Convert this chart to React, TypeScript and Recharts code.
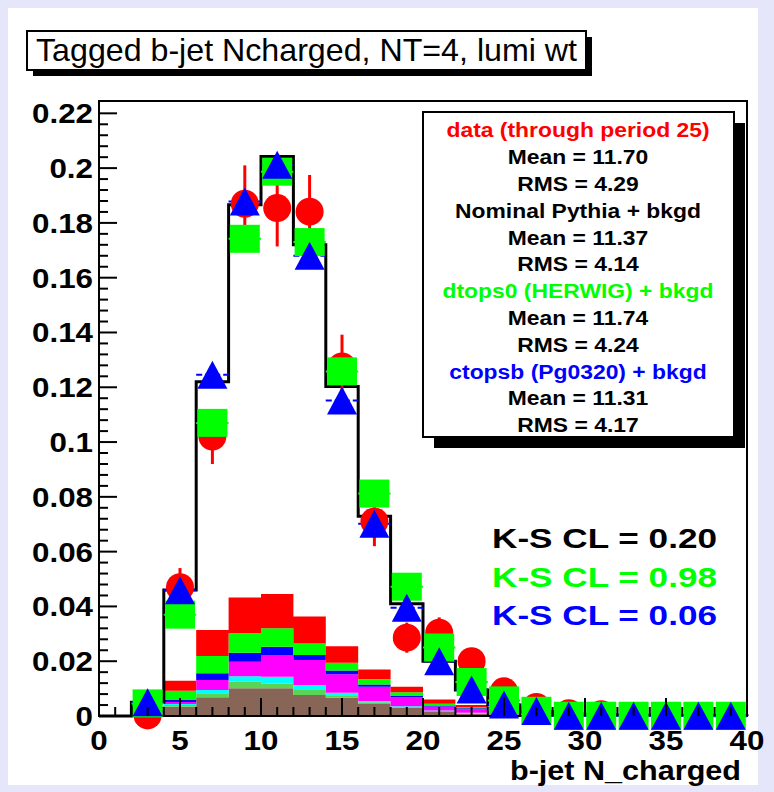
import React from "react";
import {
  ComposedChart,
  Area,
  Line,
  Scatter,
  XAxis,
  YAxis,
  ErrorBar,
  ReferenceArea,
} from "recharts";

// 20 bins of width 2 from 0 to 40, listed by lower edge
const binLow = [0, 2, 4, 6, 8, 10, 12, 14, 16, 18, 20, 22, 24, 26, 28, 30, 32, 34, 36, 38];

// Nominal Pythia + bkgd (black histogram)
const nominal = [0, 0.005, 0.046, 0.122, 0.1866, 0.2042, 0.172, 0.1203, 0.0729, 0.041, 0.02, 0.0095, 0.004, 0.0015, 0.0007, 0.0004, 0.0003, 0.0002, 0.0002, 0.0001];

// background stack, bottom to top
const bgBrown = [0, 0.0008, 0.0034, 0.0068, 0.0101, 0.0101, 0.0077, 0.0067, 0.0044, 0.003, 0.0015, 0.0008, 0.0003, 0, 0, 0, 0, 0, 0, 0];
const bgLightGreen = [0, 0.0002, 0.0006, 0.0015, 0.0024, 0.0018, 0.0018, 0.0006, 0.0006, 0.0003, 0.0003, 0.0002, 0.0001, 0, 0, 0, 0, 0, 0, 0];
const bgCyan = [0, 0.0002, 0.0004, 0.0012, 0.002, 0.0024, 0.0018, 0.0012, 0.0005, 0.0003, 0.0002, 0.0002, 0.0001, 0, 0, 0, 0, 0, 0, 0];
const bgMagenta = [0, 0.0006, 0.0007, 0.0036, 0.0053, 0.008, 0.0091, 0.0067, 0.0052, 0.0032, 0.0015, 0.0013, 0.0005, 0, 0, 0, 0, 0, 0, 0];
const bgBlue = [0, 0.0002, 0.0007, 0.0025, 0.0033, 0.003, 0.0019, 0.0014, 0.0008, 0.0005, 0.0003, 0.0003, 0.0001, 0, 0, 0, 0, 0, 0, 0];
const bgGreen = [0, 0.001, 0.0034, 0.0063, 0.0071, 0.0067, 0.0042, 0.0028, 0.0019, 0.0014, 0.0007, 0.0004, 0.0002, 0, 0, 0, 0, 0, 0, 0];
const bgRed = [0, 0.0005, 0.0037, 0.0095, 0.0131, 0.0125, 0.0098, 0.0061, 0.0036, 0.002, 0.0015, 0.0008, 0.0003, 0, 0, 0, 0, 0, 0, 0];

// data (through period 25) with stat errors
const dataVals = [null, 0.0002, 0.047, 0.102, 0.187, 0.1854, 0.1841, 0.1276, 0.071, 0.0286, 0.0304, 0.02, 0.009, 0.0033, 0.001, 0.0006, null, null, null, null];
const dataErr = [null, 0.0002, 0.007, 0.01, 0.014, 0.014, 0.0134, 0.0116, 0.009, 0.0055, 0.0056, 0.0046, 0.0031, 0.002, 0.001, 0.0006, null, null, null, null];

// dtops0 (HERWIG) + bkgd
const herwig = [null, 0.0046, 0.037, 0.107, 0.1742, 0.1987, 0.173, 0.1258, 0.0812, 0.0472, 0.025, 0.0124, 0.0057, 0.0019, 0.0001, 0.0001, 0.0001, 0.0001, 0.0001, 0.0001];
// ctopsb (Pg0320) + bkgd
const ctopsb = [null, 0.005, 0.0459, 0.1246, 0.1878, 0.2012, 0.168, 0.1152, 0.0702, 0.0395, 0.02, 0.0097, 0.0042, 0.0018, 0.0001, 0.0001, 0.0001, 0.0001, 0.0001, 0.0001];

const legendLines = [
  { text: "data (through period 25)", color: "#ff0000" },
  { text: "Mean = 11.70", color: "#000" },
  { text: "RMS = 4.29", color: "#000" },
  { text: "Nominal Pythia + bkgd", color: "#000" },
  { text: "Mean = 11.37", color: "#000" },
  { text: "RMS = 4.14", color: "#000" },
  { text: "dtops0 (HERWIG) + bkgd", color: "#00ff00" },
  { text: "Mean = 11.74", color: "#000" },
  { text: "RMS = 4.24", color: "#000" },
  { text: "ctopsb (Pg0320) + bkgd", color: "#0000ff" },
  { text: "Mean = 11.31", color: "#000" },
  { text: "RMS = 4.17", color: "#000" },
];

const ksLines = [
  { text: "K-S CL = 0.20", color: "#000" },
  { text: "K-S CL = 0.98", color: "#00ff00" },
  { text: "K-S CL = 0.06", color: "#0000ff" },
];

const FONT = "'Liberation Sans', Arial, Helvetica, sans-serif";
const Y_MAX = 0.2245;

const histRows = [
  ...binLow.map((x, i) => ({
    x,
    brown: bgBrown[i],
    lgreen: bgLightGreen[i],
    cyan: bgCyan[i],
    magenta: bgMagenta[i],
    blue: bgBlue[i],
    green: bgGreen[i],
    red: bgRed[i],
    nominal: nominal[i],
  })),
  { x: 40, brown: 0, lgreen: 0, cyan: 0, magenta: 0, blue: 0, green: 0, red: 0, nominal: 0 },
];

const points = (vals: (number | null)[], errs?: (number | null)[]) =>
  binLow
    .map((lo, i) => ({ x: lo + 1, y: vals[i], err: errs ? errs[i] : 0, xerr: 1 }))
    .filter((p) => p.y !== null);

const dataPoints = points(dataVals, dataErr);
const herwigPoints = points(herwig);
const ctopsbPoints = points(ctopsb);

const yTicks = Array.from({ length: 56 }, (_, i) => +(i * 0.004).toFixed(3));
const xTicks = Array.from({ length: 41 }, (_, i) => i);

const YTick = (props: any) => {
  const { x, y, payload } = props;
  const v = payload.value;
  const major = Math.abs(v / 0.02 - Math.round(v / 0.02)) < 1e-6;
  return (
    <g>
      <line x1={x} y1={y} x2={x + (major ? 18 : 9)} y2={y} stroke="#000" strokeWidth={2} />
      {major && (
        <g transform={`translate(${x - 6},${y + 10}) scale(1.12,1)`}>
          <text x={0} y={0} textAnchor="end" fontFamily={FONT} fontWeight="bold" fontSize={28} fill="#000">
            {v === 0 ? "0" : String(+v.toFixed(2))}
          </text>
        </g>
      )}
    </g>
  );
};

const XTick = (props: any) => {
  const { x, y, payload } = props;
  const v = payload.value;
  const major = v % 5 === 0;
  return (
    <g>
      <line x1={x} y1={y} x2={x} y2={y - (major ? 18 : 9)} stroke="#000" strokeWidth={2} />
      {major && (
        <g transform={`translate(${x},${y + 34}) scale(1.12,1)`}>
          <text x={0} y={0} textAnchor="middle" fontFamily={FONT} fontWeight="bold" fontSize={28} fill="#000">
            {v}
          </text>
        </g>
      )}
    </g>
  );
};

const RedCircle = (p: any) => <circle cx={p.cx} cy={p.cy} r={14} fill="#ff0000" />;
const GreenSquare = (p: any) => (
  <rect x={p.cx - 15} y={p.cy - 14} width={30} height={28} fill="#00ff00" />
);
const BlueTriangle = (p: any) => (
  <polygon
    points={`${p.cx},${p.cy - 14} ${p.cx - 15},${p.cy + 14} ${p.cx + 15},${p.cy + 14}`}
    fill="#0000ff"
  />
);

export default function App() {
  return (
    <div style={{ position: "fixed", left: 0, top: 0, width: 774, height: 792, background: "#e6e6fa" }}>
      <div style={{ position: "absolute", left: 8, top: 8, width: 750, height: 777, background: "#fff" }} />
      <div style={{ position: "absolute", left: 0, top: 0 }}>
        <ComposedChart
          width={774}
          height={792}
          data={histRows}
          margin={{ top: 101, right: 27, bottom: 0, left: 19 }}
        >
          <Area type="stepAfter" dataKey="brown" stackId="bg" stroke="none" fill="#876657" fillOpacity={1} isAnimationActive={false} />
          <Area type="stepAfter" dataKey="lgreen" stackId="bg" stroke="none" fill="#59d454" fillOpacity={1} isAnimationActive={false} />
          <Area type="stepAfter" dataKey="cyan" stackId="bg" stroke="none" fill="#00ffff" fillOpacity={1} isAnimationActive={false} />
          <Area type="stepAfter" dataKey="magenta" stackId="bg" stroke="none" fill="#ff00ff" fillOpacity={1} isAnimationActive={false} />
          <Area type="stepAfter" dataKey="blue" stackId="bg" stroke="none" fill="#0000ff" fillOpacity={1} isAnimationActive={false} />
          <Area type="stepAfter" dataKey="green" stackId="bg" stroke="none" fill="#00ff00" fillOpacity={1} isAnimationActive={false} />
          <Area type="stepAfter" dataKey="red" stackId="bg" stroke="none" fill="#ff0000" fillOpacity={1} isAnimationActive={false} />
          <Line type="stepAfter" dataKey="nominal" stroke="#000" strokeWidth={3} dot={false} activeDot={false} isAnimationActive={false} />
          <ReferenceArea x1={0} x2={40} y1={0} y2={Y_MAX} fill="none" stroke="#000" strokeWidth={2} />
          <Scatter data={dataPoints} dataKey="y" shape={RedCircle} isAnimationActive={false}>
            <ErrorBar dataKey="err" direction="y" width={0} stroke="#ff0000" strokeWidth={3} />
          </Scatter>
          <Scatter data={herwigPoints} dataKey="y" shape={GreenSquare} isAnimationActive={false}>
            <ErrorBar dataKey="xerr" direction="x" width={0} stroke="#00ff00" strokeWidth={2} />
          </Scatter>
          <Scatter data={ctopsbPoints} dataKey="y" shape={BlueTriangle} isAnimationActive={false}>
            <ErrorBar dataKey="xerr" direction="x" width={0} stroke="#0000ff" strokeWidth={2} strokeDasharray="6 3" />
          </Scatter>
          <XAxis
            type="number"
            dataKey="x"
            domain={[0, 40]}
            ticks={xTicks}
            interval={0}
            height={76}
            axisLine={false}
            tickLine={false}
            tickSize={0}
            tickMargin={0}
            tick={<XTick />}
          />
          <YAxis
            type="number"
            domain={[0, Y_MAX]}
            ticks={yTicks}
            interval={0}
            width={80}
            axisLine={false}
            tickLine={false}
            tickSize={0}
            tickMargin={0}
            tick={<YTick />}
          />
        </ComposedChart>
      </div>
      <svg
        width={774}
        height={792}
        style={{ position: "absolute", left: 0, top: 0, pointerEvents: "none" }}
      >
        {/* title box */}
        <rect x={33} y={37} width={559} height={39} fill="#000" />
        <rect x={27} y={31} width={559} height={39} fill="#fff" stroke="#000" strokeWidth={2} />
        <text x={36} y={61} fontFamily={FONT} fontSize={32} textLength={541} lengthAdjust="spacingAndGlyphs" fill="#000">
          Tagged b-jet Ncharged, NT=4, lumi wt
        </text>

        {/* stats box */}
        <rect x={434} y={123} width={311} height={325} fill="#000" />
        <rect x={423} y={112} width={311} height={325} fill="#fff" stroke="#000" strokeWidth={2} />
        <g transform="translate(578,0) scale(1.09,1)">
          {legendLines.map((l, i) => (
            <text
              key={i}
              x={0}
              y={137.5 + i * 26.8}
              textAnchor="middle"
              fontFamily={FONT}
              fontWeight="bold"
              fontSize={21}
              fill={l.color}
            >
              {l.text}
            </text>
          ))}
        </g>

        {ksLines.map((l, i) => (
          <text
            key={i}
            x={492}
            y={548 + i * 38.5}
            fontFamily={FONT}
            fontWeight="bold"
            fontSize={28}
            textLength={225}
            lengthAdjust="spacingAndGlyphs"
            fill={l.color}
          >
            {l.text}
          </text>
        ))}

        <text
          x={741}
          y={780}
          textAnchor="end"
          fontFamily={FONT}
          fontWeight="bold"
          fontSize={27}
          textLength={231}
          lengthAdjust="spacingAndGlyphs"
          fill="#000"
        >
          b-jet N_charged
        </text>
      </svg>
    </div>
  );
}
